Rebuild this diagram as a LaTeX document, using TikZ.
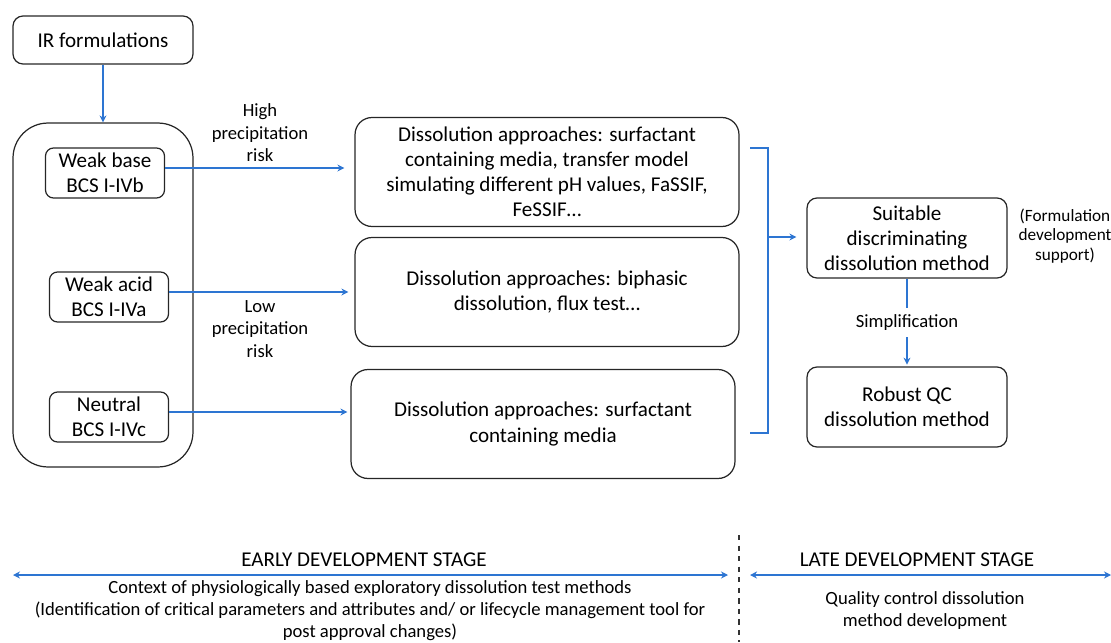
\documentclass[tikz,border=0pt]{standalone}
\usepackage{fontspec}
\setmainfont{Carlito}
\usetikzlibrary{arrows.meta}
\definecolor{linkblue}{RGB}{45,117,210}

\tikzset{
    box/.style={draw=black!85, line width=0.7pt, rounded corners=0.2cm, align=center, inner sep=0pt},
    smallbox/.style={box, rounded corners=0.16cm, minimum width=2.38cm, minimum height=1cm},
    bigbox/.style={box, rounded corners=0.34cm, minimum width=7.68cm, minimum height=2.18cm},
    methodbox/.style={box, minimum width=4cm, minimum height=1.6cm},
    link/.style={draw=linkblue, line width=0.7pt},
    flow/.style={link, ->},
    note/.style={align=center, font=\fontsize{10.6}{12.8}\selectfont},
    stage/.style={align=center, font=\fontsize{10.6}{12.5}\selectfont},
    stagehead/.style={font=\fontsize{12}{14}\selectfont}
}

\begin{document}
\begin{tikzpicture}[x=0.02cm, y=-0.02cm, >={Stealth[length=4pt,width=4pt]}, font=\fontsize{12}{14.3}\selectfont]
    \useasboundingbox (0,0) rectangle (1111,642);

    % formulation side
    \node[box, minimum width=3.6cm, minimum height=0.96cm] (ir) at (103,40) {IR formulations};
    \node[box, rounded corners=0.7cm, minimum width=3.6cm, minimum height=6.88cm] (group) at (103,295) {};
    \node[smallbox] (base) at (105,173) {Weak base\\BCS I-IVb};
    \node[smallbox] (acid) at (109,297) {Weak acid\\BCS I-IVa};
    \node[smallbox] (neutral) at (109,417) {Neutral\\BCS I-IVc};

    % dissolution approaches
    \node[bigbox] (surf) at (547,172) {Dissolution approaches: surfactant\\containing media, transfer model\\simulating different pH values, FaSSIF,\\FeSSIF\dots};
    \node[bigbox] (biph) at (547,292) {Dissolution approaches: biphasic\\dissolution, flux test\dots};
    \node[bigbox] (media) at (543,424) {Dissolution approaches: surfactant\\containing media};

    % methods
    \node[methodbox] (suitable) at (907,238) {Suitable\\discriminating\\dissolution method};
    \node[methodbox] (robust) at (907,407) {Robust QC\\dissolution method};
    \node[align=center, font=\fontsize{9.8}{11.3}\selectfont] (support) at (1065,236) {(Formulation\\development\\support)};

    \node[note] (high) at (260,133) {High\\precipitation\\risk};
    \node[note] (low) at (260,329) {Low\\precipitation\\risk};

    \draw[flow] (ir) -- (group);
    \draw[flow, shorten >=0.2cm] ([yshift=0.1cm]base.east) -- ([yshift=0.1cm]base.east -| surf.west);
    \draw[flow, shorten >=0.12cm] ([yshift=0.1cm]acid.east) -- ([yshift=0.1cm]acid.east -| biph.west);
    \draw[flow, shorten >=0.06cm] ([yshift=0.1cm]neutral.east) -- ([yshift=0.1cm]neutral.east -| media.west);

    % bracket
    \coordinate (brtop) at (750,148);
    \coordinate (brbot) at (750,433);
    \coordinate (brmid) at (768,237);
    \draw[link] (brtop) -- ++(18,0) -- ++(0,285) -- (brbot);
    \draw[flow, shorten >=0.2cm] (brmid) -- (brmid -| suitable.west);
    \draw[flow, shorten >=1pt] (suitable) -- node[fill=white, inner ysep=3.5pt, inner xsep=1pt, font=\fontsize{10.6}{13}\selectfont] (simpl) {Simplification} (robust);

    % stages
    \coordinate (split top) at (739,535);
    \coordinate (split bot) at (739,642);
    \draw[dashed, black!80, line width=0.6pt] (split top) -- (split bot);
    \node[stagehead] (early) at (364,560) {EARLY DEVELOPMENT STAGE};
    \node[stagehead] (late) at (917,560) {LATE DEVELOPMENT STAGE};
    \coordinate (early l) at (13,575);
    \coordinate (early r) at (728,575);
    \coordinate (late l) at (750,575);
    \coordinate (late r) at (1111,575);
    \draw[link, <->] (early l) -- (early r);
    \draw[link, <->] (late l) -- (late r);
    \node[stage] (context) at (370,611) {Context of physiologically based exploratory dissolution test methods\\(Identification of critical parameters and attributes and/ or lifecycle management tool for\\post approval changes)};
    \node[stage] (qc) at (925,611) {Quality control dissolution\\method development};
\end{tikzpicture}
\end{document}
